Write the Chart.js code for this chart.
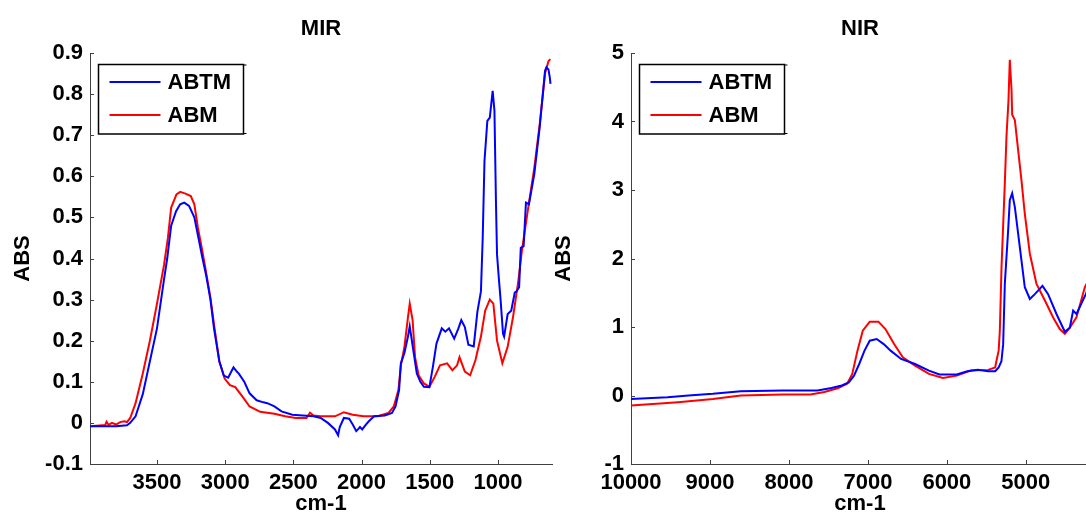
<!DOCTYPE html>
<html>
<head>
<meta charset="utf-8">
<script src="https://cdn.jsdelivr.net/npm/chart.js@4.4.1/dist/chart.umd.min.js"></script>
<style>
    html, body { margin: 0; padding: 0; background: #fff; overflow: hidden; }
    #wrap { position: relative; width: 1086px; height: 517px; overflow: hidden; }
    #mirChart { position: absolute; left: 0; top: 0; }
    #nirChart { position: absolute; left: 541px; top: 0; }
</style>
</head>
<body>
<div id="wrap">
    <canvas id="mirChart" width="560" height="517"></canvas>
    <canvas id="nirChart" width="548" height="517"></canvas>
</div>
<script>
// MIR spectra (wavenumber in cm-1, absorbance)
const mirAbtmWn = [3991, 3900, 3800, 3720, 3696, 3657, 3604, 3552, 3500, 3448, 3425, 3396, 3360, 3330, 3300,
    3265, 3226, 3190, 3166, 3140, 3108, 3082, 3043, 3010, 2978, 2955, 2939, 2915, 2900, 2860, 2821, 2769, 2720,
    2691, 2639, 2587, 2508, 2430, 2352, 2300, 2247, 2195, 2172, 2160, 2130, 2091, 2065, 2039, 2025, 2012, 1995,
    1970, 1947, 1908, 1830, 1777, 1751, 1725, 1712, 1686, 1660, 1647, 1621, 1595, 1569, 1543, 1503, 1477, 1451,
    1412, 1386, 1359, 1321, 1290, 1269, 1243, 1217, 1178, 1151, 1125, 1112, 1099, 1078, 1060, 1039, 1026, 1015,
    1007, 994, 981, 963, 955, 929, 903, 877, 864, 845, 833, 812, 795, 773, 734, 694, 655, 645, 630, 620, 615];
const mirAbtmAbs = [-0.008, -0.008, -0.008, -0.006, 0.0, 0.016, 0.07, 0.15, 0.23, 0.35, 0.40, 0.48, 0.515, 0.532,
    0.536, 0.528, 0.50, 0.44, 0.40, 0.36, 0.30, 0.23, 0.15, 0.115, 0.11, 0.125, 0.135, 0.125, 0.12, 0.10, 0.072,
    0.055, 0.05, 0.048, 0.04, 0.028, 0.02, 0.018, 0.016, 0.012, 0.0, -0.016, -0.03, -0.01, 0.012, 0.01, -0.004,
    -0.02, -0.015, -0.01, -0.016, -0.005, 0.004, 0.016, 0.018, 0.024, 0.04, 0.08, 0.145, 0.17, 0.21, 0.235, 0.177,
    0.12, 0.10, 0.088, 0.087, 0.137, 0.193, 0.23, 0.222, 0.23, 0.205, 0.23, 0.25, 0.233, 0.19, 0.186, 0.27, 0.32,
    0.45, 0.637, 0.735, 0.743, 0.808, 0.76, 0.54, 0.41, 0.353, 0.30, 0.217, 0.21, 0.265, 0.273, 0.317, 0.32, 0.33,
    0.426, 0.43, 0.536, 0.532, 0.605, 0.72, 0.857, 0.865, 0.86, 0.84, 0.825];

const mirAbmWn = [3991, 3900, 3880, 3870, 3855, 3830, 3800, 3770, 3740, 3720, 3696, 3657, 3604, 3552, 3500, 3448,
    3420, 3396, 3357, 3330, 3291, 3252, 3226, 3200, 3174, 3147, 3108, 3082, 3043, 3004, 2965, 2926, 2873, 2821,
    2743, 2639, 2560, 2482, 2404, 2378, 2352, 2300, 2195, 2130, 2065, 1986, 1882, 1804, 1764, 1730, 1712, 1686,
    1660, 1647, 1626, 1608, 1582, 1543, 1503, 1464, 1425, 1373, 1334, 1300, 1282, 1243, 1204, 1165, 1125, 1094,
    1060, 1034, 1007, 968, 929, 890, 851, 825, 786, 734, 694, 655, 630, 616];
const mirAbmAbs = [-0.008, -0.006, -0.006, 0.003, -0.005, 0.0, -0.004, 0.002, 0.004, 0.002, 0.012, 0.048, 0.12,
    0.20, 0.29, 0.385, 0.45, 0.524, 0.556, 0.562, 0.558, 0.552, 0.532, 0.475, 0.43, 0.38, 0.305, 0.24, 0.15, 0.108,
    0.092, 0.087, 0.064, 0.04, 0.027, 0.022, 0.016, 0.012, 0.012, 0.025, 0.018, 0.016, 0.016, 0.026, 0.02, 0.016,
    0.016, 0.024, 0.04, 0.08, 0.14, 0.185, 0.257, 0.29, 0.25, 0.16, 0.116, 0.096, 0.088, 0.112, 0.14, 0.145, 0.128,
    0.14, 0.16, 0.125, 0.116, 0.153, 0.21, 0.273, 0.30, 0.29, 0.20, 0.145, 0.185, 0.257, 0.345, 0.418, 0.507, 0.62,
    0.727, 0.85, 0.88, 0.885];

// NIR spectra
const nirAbtmWn = [10000, 9537, 9272, 8963, 8610, 8080, 7639, 7462, 7330, 7242, 7176, 7110, 7043, 6977, 6889, 6800,
    6712, 6580, 6403, 6227, 6094, 5874, 5741, 5609, 5477, 5388, 5344, 5309, 5287, 5266, 5224, 5203, 5173, 5139,
    5097, 5055, 5013, 4949, 4886, 4789, 4718, 4612, 4506, 4443, 4401, 4359, 4240, 4200];
const nirAbtmAbs = [-0.05, -0.024, 0.0, 0.024, 0.063, 0.073, 0.073, 0.11, 0.146, 0.19, 0.29, 0.46, 0.655, 0.80,
    0.825, 0.75, 0.655, 0.534, 0.46, 0.364, 0.306, 0.306, 0.354, 0.374, 0.354, 0.354, 0.41, 0.5, 0.75, 1.63, 2.41,
    2.85, 2.95, 2.75, 2.36, 1.97, 1.58, 1.41, 1.48, 1.60, 1.48, 1.19, 0.93, 0.99, 1.24, 1.19, 1.48, 1.6];

const nirAbmWn = [10000, 9404, 8963, 8610, 8080, 7727, 7551, 7374, 7264, 7198, 7132, 7065, 6977, 6867, 6778, 6668,
    6558, 6403, 6227, 6050, 5874, 5697, 5477, 5388, 5371, 5344, 5329, 5308, 5266, 5245, 5220, 5203, 5181, 5173,
    5139, 5097, 5055, 5013, 4949, 4865, 4760, 4654, 4570, 4506, 4443, 4359, 4253, 4200];
const nirAbmAbs = [-0.146, -0.097, -0.05, 0.0, 0.015, 0.015, 0.05, 0.11, 0.17, 0.316, 0.655, 0.947, 1.078, 1.078,
    0.97, 0.752, 0.558, 0.437, 0.316, 0.257, 0.29, 0.364, 0.374, 0.41, 0.51, 0.655, 0.95, 1.87, 3.1, 3.78, 4.3, 4.90,
    4.46, 4.1, 4.02, 3.58, 3.14, 2.65, 2.07, 1.63, 1.39, 1.14, 0.97, 0.90, 0.99, 1.14, 1.58, 1.7];

// Tick labels
const mirXTicks = [3500, 3000, 2500, 2000, 1500, 1000];
const mirYTicks = [-0.1, 0, 0.1, 0.2, 0.3, 0.4, 0.5, 0.6, 0.7, 0.8, 0.9];
const nirXTicks = [10000, 9000, 8000, 7000, 6000, 5000];
const nirYTicks = [-1, 0, 1, 2, 3, 4, 5];

const seriesLabels = ['ABTM', 'ABM'];
const seriesColors = ['#0000ff', '#ff0000'];

const FONT_FAMILY = 'Arial, "Liberation Sans", Helvetica, sans-serif';
const FONT_SIZE = 22;
const AXIS_COLOR = '#404040';

function toPoints(xs, ys) {
    return xs.map((x, i) => ({ x: x, y: ys[i] }));
}

// Matlab style legend box inside the axes
const matlabLegend = {
    id: 'matlabLegend',
    afterDraw(chart, args, opts) {
        const ctx = chart.ctx;
        const area = chart.chartArea;
        const x = area.left + opts.dx;
        const y = area.top + opts.dy;
        ctx.save();
        ctx.fillStyle = '#ffffff';
        ctx.fillRect(x, y, opts.width, opts.height);
        ctx.strokeStyle = '#000000';
        ctx.lineWidth = 1.5;
        ctx.strokeRect(x, y, opts.width, opts.height);
        // little stubs on the right edge
        ctx.lineWidth = 1;
        ctx.beginPath();
        ctx.moveTo(x + opts.width, y + 0.5);
        ctx.lineTo(x + opts.width + 3, y + 0.5);
        ctx.moveTo(x + opts.width, y + opts.height - 0.5);
        ctx.lineTo(x + opts.width + 3, y + opts.height - 0.5);
        ctx.stroke();

        ctx.font = 'bold ' + FONT_SIZE + 'px ' + FONT_FAMILY;
        ctx.textBaseline = 'middle';
        ctx.textAlign = 'left';
        chart.data.datasets.forEach((ds, i) => {
            const ly = y + opts.rowTop + i * opts.rowGap;
            ctx.strokeStyle = ds.borderColor;
            ctx.lineWidth = 2;
            ctx.beginPath();
            ctx.moveTo(x + 11, ly);
            ctx.lineTo(x + 62, ly);
            ctx.stroke();
            ctx.fillStyle = '#000000';
            ctx.fillText(ds.label, x + 69, ly + 1);
        });
        ctx.restore();
    }
};

// Ticks pointing into the plot, like Matlab
const inwardTicks = {
    id: 'inwardTicks',
    afterDraw(chart) {
        const { ctx, chartArea, scales } = chart;
        ctx.save();
        ctx.strokeStyle = AXIS_COLOR;
        ctx.lineWidth = 1;
        ctx.beginPath();
        scales.x.ticks.forEach(t => {
            const px = Math.round(scales.x.getPixelForValue(t.value)) + 0.5;
            ctx.moveTo(px, chartArea.bottom);
            ctx.lineTo(px, chartArea.bottom - 4);
        });
        scales.y.ticks.forEach(t => {
            const py = Math.round(scales.y.getPixelForValue(t.value)) + 0.5;
            ctx.moveTo(chartArea.left, py);
            ctx.lineTo(chartArea.left + 4, py);
        });
        ctx.stroke();
        ctx.restore();
    }
};

function makeSpectrumChart(canvasId, cfg) {
    const ctx = document.getElementById(canvasId);
    const font = { family: FONT_FAMILY, size: FONT_SIZE, weight: 'bold' };
    return new Chart(ctx, {
        type: 'line',
        data: {
            datasets: cfg.series.map((s, i) => ({
                label: seriesLabels[i],
                data: toPoints(s.x, s.y),
                borderColor: seriesColors[i],
                backgroundColor: seriesColors[i],
                borderWidth: 2,
                pointRadius: 0,
                tension: 0,
                fill: false
            }))
        },
        options: {
            responsive: false,
            animation: false,
            devicePixelRatio: 1,
            layout: {
                padding: { top: 0, right: cfg.padRight, bottom: 0, left: 0 }
            },
            plugins: {
                legend: { display: false },
                tooltip: { enabled: false },
                title: {
                    display: true,
                    text: cfg.title,
                    fullSize: false,
                    color: '#000000',
                    font: font,
                    padding: { top: 16, bottom: 10.6 }
                },
                matlabLegend: { dx: 8.5, dy: 11.5, width: 145, height: 69.5, rowTop: 17.5, rowGap: 33 }
            },
            scales: {
                x: {
                    type: 'linear',
                    reverse: true,
                    min: cfg.xMin,
                    max: cfg.xMax,
                    afterBuildTicks: scale => { scale.ticks = cfg.xTicks.map(v => ({ value: v })); },
                    afterFit: scale => { scale.height = 53; },
                    grid: { display: false, drawTicks: false },
                    border: { display: true, color: AXIS_COLOR, width: 1 },
                    ticks: {
                        color: '#000000',
                        padding: 6,
                        maxRotation: 0,
                        autoSkip: false,
                        font: font,
                        callback: value => String(value)
                    },
                    title: {
                        display: true,
                        text: 'cm-1',
                        color: '#000000',
                        font: font,
                        padding: { top: 0, bottom: 0 }
                    }
                },
                y: {
                    min: cfg.yMin,
                    max: cfg.yMax,
                    afterBuildTicks: scale => { scale.ticks = cfg.yTicks.map(v => ({ value: v })); },
                    afterFit: scale => { scale.width = 90; },
                    grid: { display: false, drawTicks: false },
                    border: { display: true, color: AXIS_COLOR, width: 1 },
                    ticks: {
                        color: '#000000',
                        padding: 7,
                        autoSkip: false,
                        font: font,
                        callback: value => String(Math.round(value * 10) / 10)
                    },
                    title: {
                        display: true,
                        text: 'ABS',
                        color: '#000000',
                        font: font,
                        padding: { top: 10, bottom: 0 }
                    }
                }
            }
        },
        plugins: [matlabLegend, inwardTicks]
    });
}

makeSpectrumChart('mirChart', {
    title: 'MIR',
    series: [{ x: mirAbtmWn, y: mirAbtmAbs }, { x: mirAbmWn, y: mirAbmAbs }],
    xMin: 604, xMax: 3991,
    yMin: -0.1, yMax: 0.9,
    xTicks: mirXTicks, yTicks: mirYTicks,
    padRight: 8
});

makeSpectrumChart('nirChart', {
    title: 'NIR',
    series: [{ x: nirAbtmWn, y: nirAbtmAbs }, { x: nirAbmWn, y: nirAbmAbs }],
    xMin: 4200, xMax: 10000,
    yMin: -1, yMax: 5,
    xTicks: nirXTicks, yTicks: nirYTicks,
    padRight: 0
});
</script>
</body>
</html>
